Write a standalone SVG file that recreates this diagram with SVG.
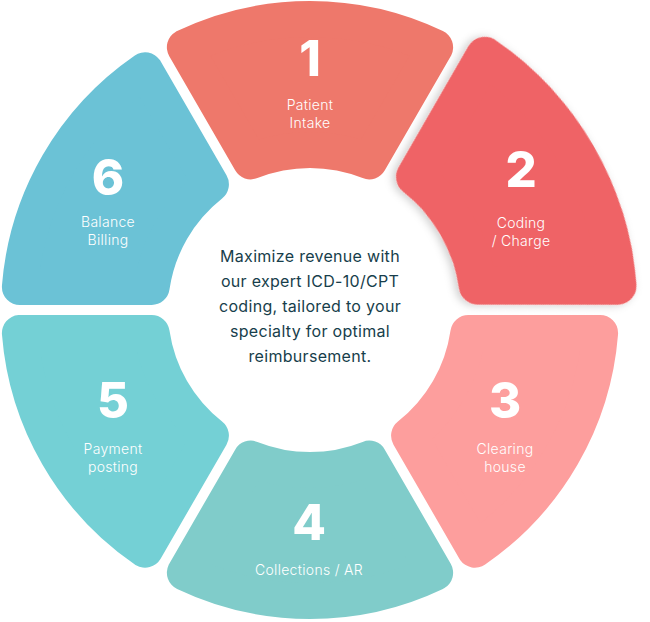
<svg xmlns="http://www.w3.org/2000/svg" xmlns:xlink="http://www.w3.org/1999/xlink" width="650" height="622" viewBox="0 0 650 622">
  <style>
    .seg{stroke-width:36;stroke-linejoin:round}
    .s1{fill:#EE786B;stroke:#EE786B}
    .s2{fill:#EF6466;stroke:#EF6466}
    .s3{fill:#FD9E9D;stroke:#FD9E9D}
    .s4{fill:#80CCCA;stroke:#80CCCA}
    .s5{fill:#74D0D5;stroke:#74D0D5}
    .s6{fill:#6BC2D6;stroke:#6BC2D6}
    .num{font-family:Inter,"Liberation Sans",sans-serif;font-weight:800;font-size:49px;fill:#fff;text-anchor:middle}
    .lbl{font-family:Inter,"Liberation Sans",sans-serif;font-weight:300;font-size:14px;letter-spacing:0.3px;fill:#fff;text-anchor:middle}
    .ctr{font-family:Inter,"Liberation Sans",sans-serif;font-weight:400;font-size:16px;letter-spacing:0.3px;fill:#173E4B;text-anchor:middle}
  </style>
  <defs>
    <path id="seg" d="M184.87 47.27 A291 291 0 0 1 435.13 47.27 L369.25 161.37 A160 160 0 0 0 250.75 161.37 Z"/>
    <filter id="shadow" x="-20%" y="-20%" width="140%" height="140%">
      <feDropShadow dx="-1" dy="3" stdDeviation="4" flood-color="#000" flood-opacity="0.2"/>
    </filter>
  </defs>
  <rect width="650" height="622" fill="#fff"/>
  <g id="connectors"/>
  <g id="node1">
    <use href="#seg" class="seg s1"/>
    <text class="num" x="310" y="76">1</text>
    <text class="lbl" x="310" y="110">Patient</text>
    <text class="lbl" x="310" y="128">Intake</text>
  </g>
  <g id="node3">
    <use href="#seg" class="seg s3" transform="rotate(120 310 310)"/>
    <text class="num" x="505" y="418">3</text>
    <text class="lbl" x="505" y="454">Clearing</text>
    <text class="lbl" x="505" y="472">house</text>
  </g>
  <g id="node4">
    <use href="#seg" class="seg s4" transform="rotate(180 310 310)"/>
    <text class="num" x="309" y="540">4</text>
    <text class="lbl" x="309" y="575">Collections / AR</text>
  </g>
  <g id="node5">
    <use href="#seg" class="seg s5" transform="rotate(240 310 310)"/>
    <text class="num" x="113" y="418">5</text>
    <text class="lbl" x="113" y="454">Payment</text>
    <text class="lbl" x="113" y="472">posting</text>
  </g>
  <g id="node6">
    <use href="#seg" class="seg s6" transform="rotate(300 310 310)"/>
    <text class="num" x="108" y="195">6</text>
    <text class="lbl" x="108" y="227">Balance</text>
    <text class="lbl" x="108" y="245">Billing</text>
  </g>
  <g id="node2">
    <use href="#seg" class="seg s2" filter="url(#shadow)" transform="translate(310 310) scale(1.06) rotate(60) translate(-310 -310)"/>
    <text class="num" x="521" y="187">2</text>
    <text class="lbl" x="521" y="228">Coding</text>
    <text class="lbl" x="521" y="246">/ Charge</text>
  </g>
  <g id="center">
    <text class="ctr" x="310" y="262">Maximize revenue with</text>
    <text class="ctr" x="310" y="287">our expert ICD-10/CPT</text>
    <text class="ctr" x="310" y="312">coding, tailored to your</text>
    <text class="ctr" x="310" y="337">specialty for optimal</text>
    <text class="ctr" x="310" y="362">reimbursement.</text>
  </g>
</svg>
